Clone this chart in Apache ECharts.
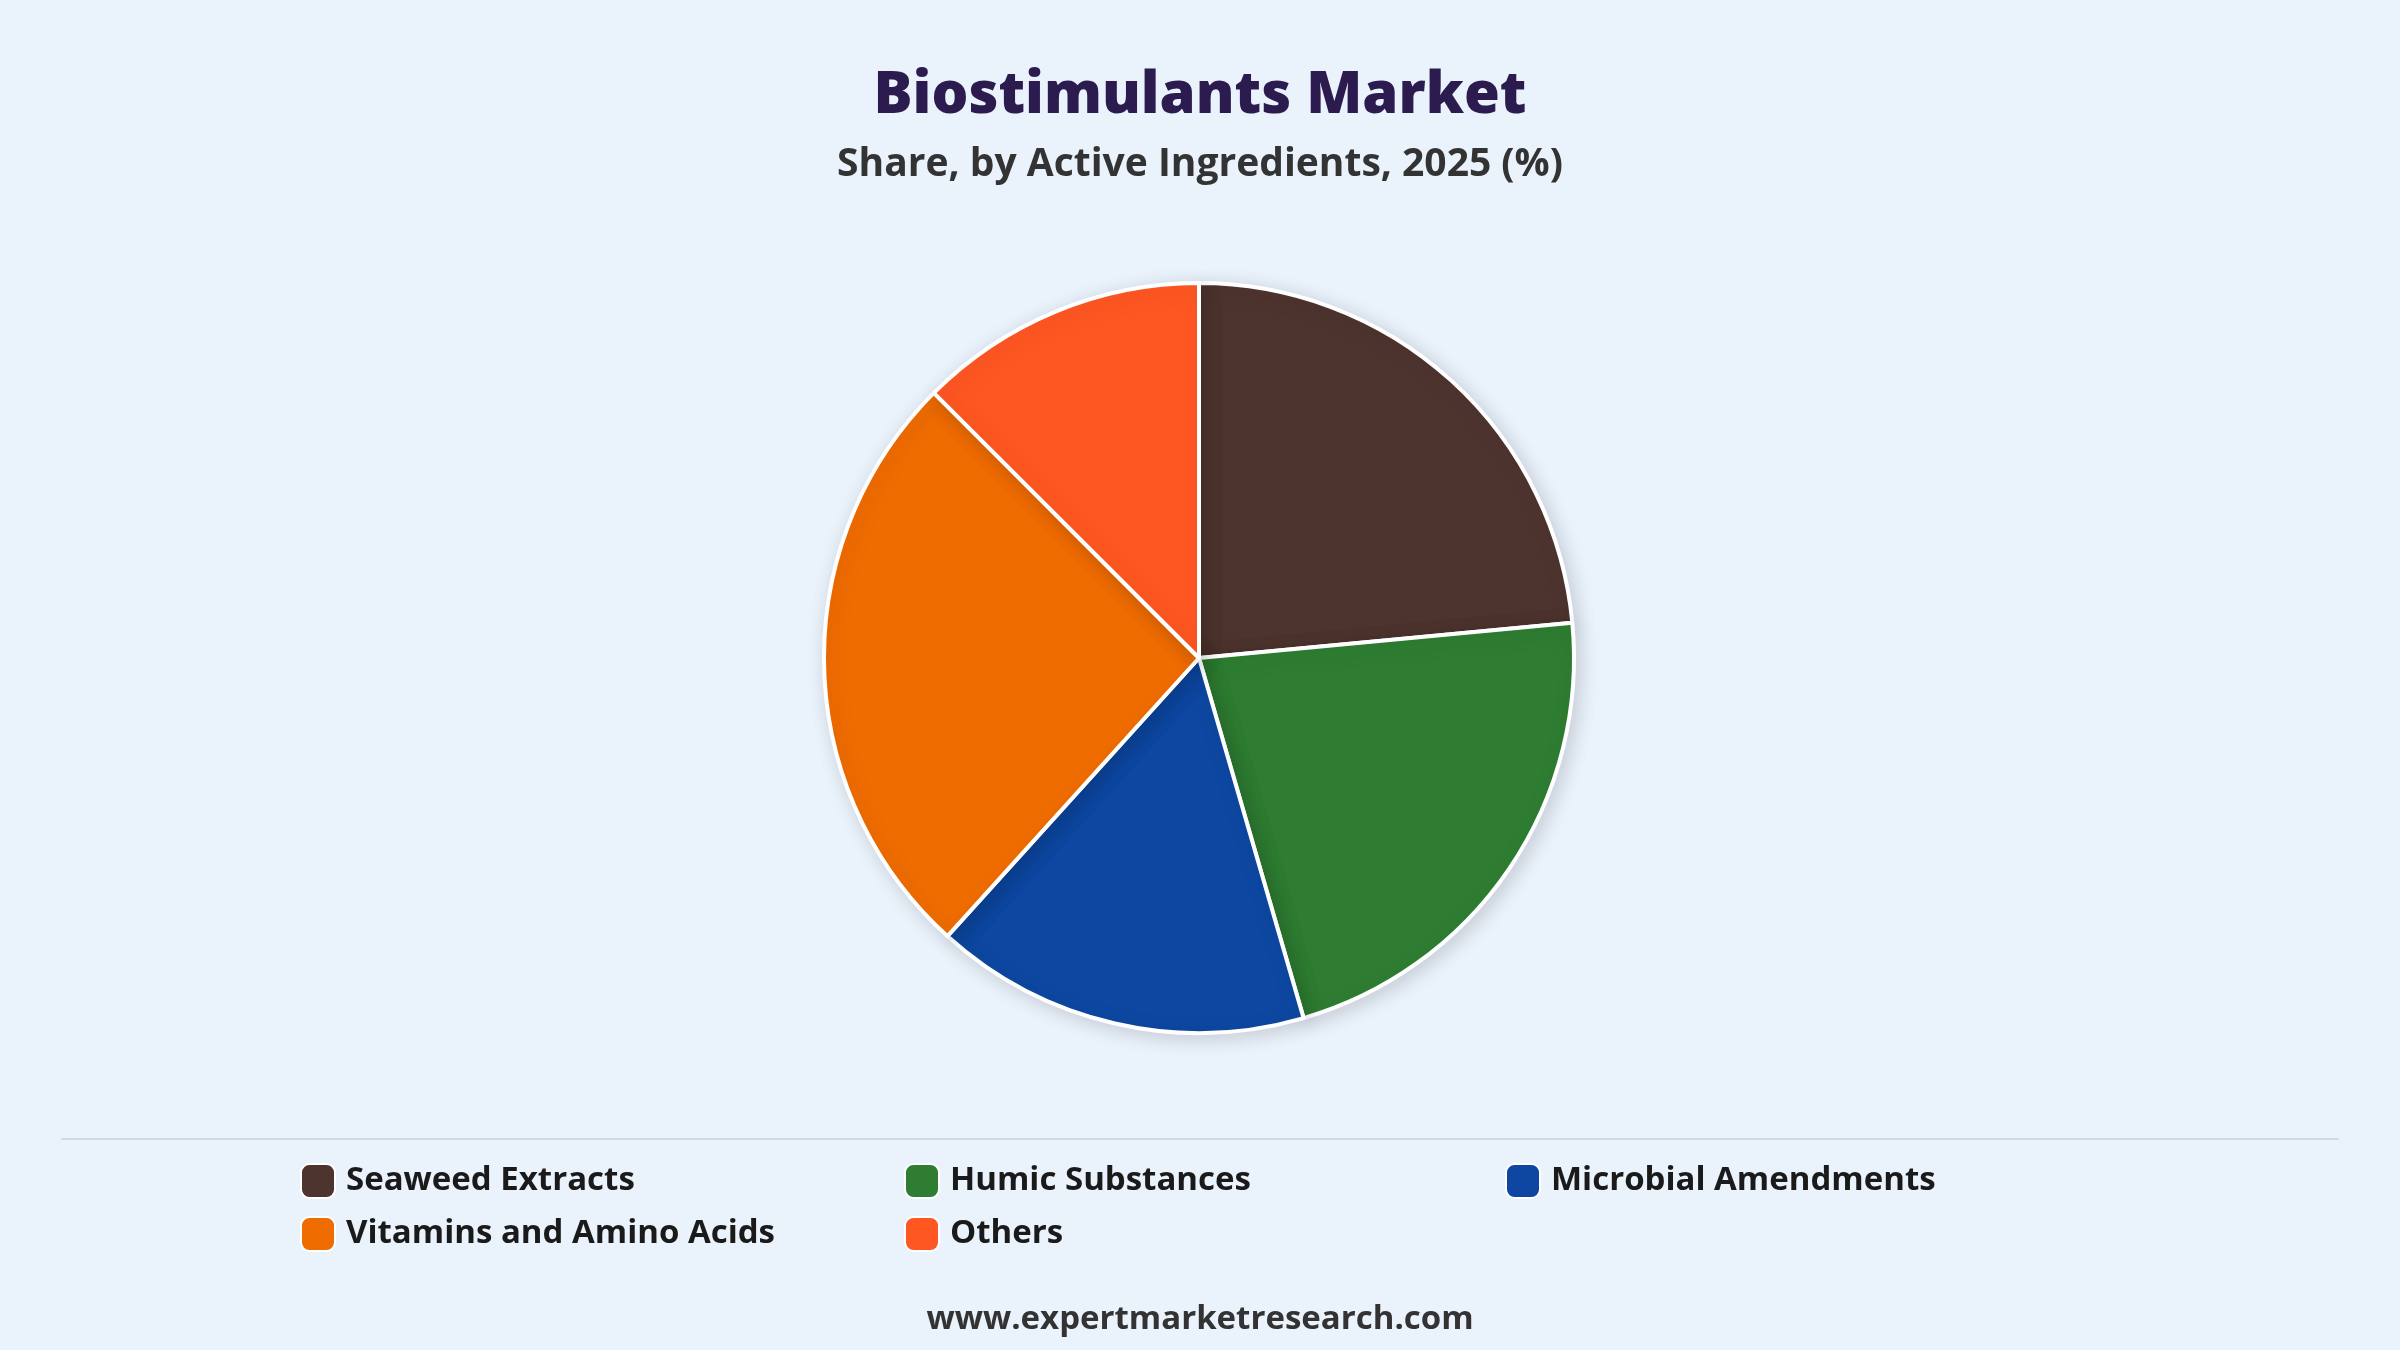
<!DOCTYPE html>
<html><head><meta charset="utf-8">
<script src="https://cdn.jsdelivr.net/npm/echarts@6/dist/echarts.min.js"></script>
<style>html,body{margin:0;padding:0;background:#EAF2FC;}#c{width:2400px;height:1350px;}</style>
</head><body><div id="c"></div>
<script>
const categories = ["Seaweed Extracts","Humic Substances","Microbial Amendments","Vitamins and Amino Acids","Others"];
const values = [23.5, 22, 16.2, 25.8, 12.5];
const colors = ["#4E342E","#2E7D32","#0D47A1","#EF6C00","#FF5722"];
const chart = echarts.init(document.getElementById('c'));
const legendLeft = [295, 899, 1500, 295, 899];
const legendTop = [1158, 1158, 1158, 1211, 1211];
const legends = categories.map((n,i)=>({
  orient:'horizontal', itemWidth:34, itemHeight:34, icon:'roundRect',
  left:legendLeft[i], top:legendTop[i], data:[n],
  textStyle:{fontFamily:'Open Sans', fontWeight:'bold', fontSize:33, color:'#1a1a1a', padding:[0,0,0,6]}
}));
chart.setOption({
  backgroundColor:'#EAF2FC',
  color: colors,
  title:[
    {text:'Biostimulants Market', left:'center', top:62, textStyle:{fontFamily:'Open Sans', fontWeight:900, fontSize:58, color:'#2B1B4E'}},
    {text:'Share, by Active Ingredients, 2025 (%)', left:'center', top:140, textStyle:{fontFamily:'Open Sans', fontWeight:'bold', fontSize:39, color:'#333'}},
    {text:'www.expertmarketresearch.com', left:'center', top:1298, textStyle:{fontFamily:'Open Sans', fontWeight:'bold', fontSize:33, color:'#333'}}
  ],
  graphic:[{type:'line', shape:{x1:61,y1:1139,x2:2339,y2:1139}, style:{stroke:'#d5d9e0', lineWidth:2}}],
  legend: legends,
  series:[{
    type:'pie', center:[1199,658], radius:[0,375], startAngle:90, clockwise:true,
    label:{show:false}, labelLine:{show:false},
    itemStyle:{borderColor:'#fff', borderWidth:4, shadowBlur:20, shadowColor:'rgba(0,0,0,0.15)', shadowOffsetX:4, shadowOffsetY:4},
    emphasis:{disabled:true},
    data: categories.map((n,i)=>({name:n, value:values[i]}))
  }]
});
</script></body></html>
